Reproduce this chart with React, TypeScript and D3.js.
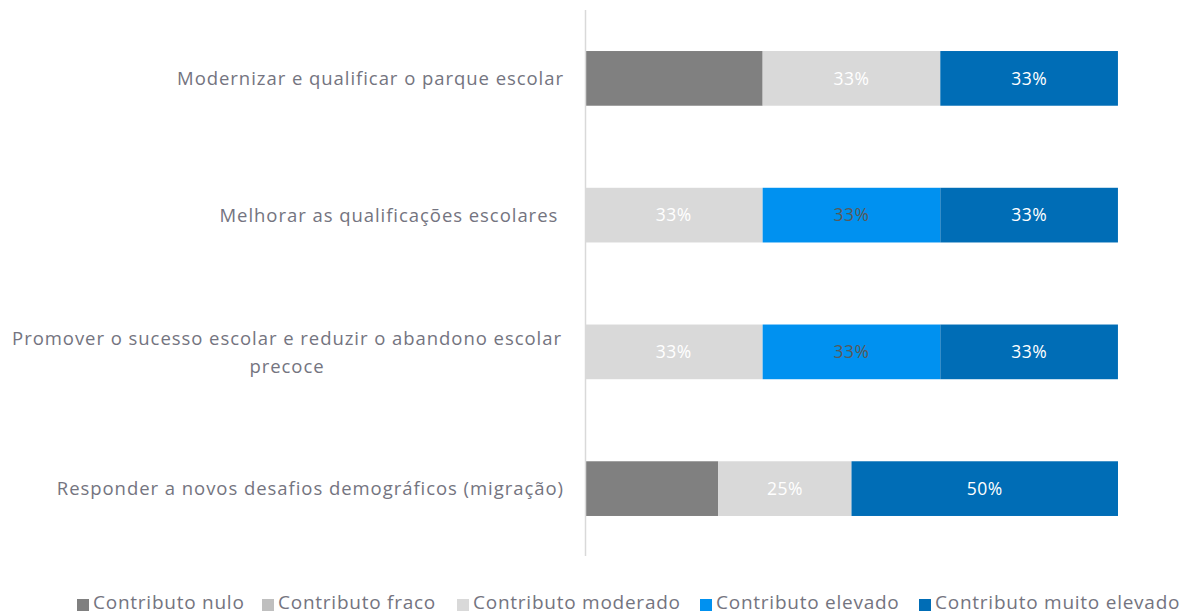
import React from "react";
import * as d3 from "d3";

const categories = [
  ["Modernizar e qualificar o parque escolar"],
  ["Melhorar as qualificações escolares "],
  ["Promover o sucesso escolar e reduzir o abandono escolar", "precoce"],
  ["Responder a novos desafios demográficos (migração)"],
];
const seriesNames = [
  "Contributo nulo",
  "Contributo fraco",
  "Contributo moderado",
  "Contributo elevado",
  "Contributo muito elevado",
];
const nulo = [0.3333, 0, 0, 0.25];
const fraco = [0, 0, 0, 0];
const moderado = [0.3333, 0.3333, 0.3333, 0.25];
const elevado = [0, 0.3333, 0.3333, 0];
const muitoElevado = [0.3333, 0.3333, 0.3333, 0.5];
const colors = ["#808080", "#BFBFBF", "#D9D9D9", "#0091F0", "#006DB6"];
const labelColors = ["#808080", "#FFFFFF", "#FFFFFF", "#595959", "#FFFFFF"];

const W = 1188;
const H = 614;
const FONT = "'Open Sans', 'Noto Sans', sans-serif";
const TXT = "#747480";

export default function App() {
  const values = [nulo, fraco, moderado, elevado, muitoElevado];
  const rows = categories.map((_, i) => {
    const r: any = { idx: i };
    values.forEach((v, s) => (r["s" + s] = v[i]));
    return r;
  });
  const keys = values.map((_, s) => "s" + s);
  const stacked = d3.stack().keys(keys)(rows);

  const x = d3.scaleLinear().domain([0, 1]).range([585, 1118]);
  const y = d3
    .scaleBand<number>()
    .domain(categories.map((_, i) => i))
    .range([10, 557])
    .paddingInner(0.6)
    .paddingOuter(0.3);

  const fmt = d3.format(".0%");

  const legendX = [77, 262, 457, 700, 919];

  return (
    <svg
      width={W}
      height={H}
      style={{ position: "absolute", left: 0, top: 0, background: "#fff" }}
      fontFamily={FONT}
    >
      {stacked.map((layer, s) => (
        <g key={s}>
          {layer.map((d, i) => {
            const w = x(d[1]) - x(d[0]);
            if (w <= 0) return null;
            return (
              <g key={i}>
                <rect
                  x={x(d[0])}
                  y={y(i)}
                  width={w}
                  height={y.bandwidth()}
                  fill={colors[s]}
                />
                {s !== 0 && (
                  <text
                    x={(x(d[0]) + x(d[1])) / 2}
                    y={y(i)! + y.bandwidth() / 2}
                    dy="0.36em"
                    textAnchor="middle"
                    fontSize={17.5}
                    letterSpacing={0.5}
                    fill={labelColors[s]}
                  >
                    {fmt(d[1] - d[0])}
                  </text>
                )}
              </g>
            );
          })}
        </g>
      ))}
      <line x1={585.5} x2={585.5} y1={10} y2={556} stroke="#D9D9D9" strokeWidth={1.5} />
      {categories.map((lines, i) => {
        const cy = y(i)! + y.bandwidth() / 2;
        if (lines.length === 1) {
          return (
            <text
              key={i}
              x={564}
              y={cy}
              dy="0.36em"
              textAnchor="end"
              fontSize={18.5}
              letterSpacing={0.95}
              fill={TXT}
              style={{ whiteSpace: "pre" }}
            >
              {lines[0]}
            </text>
          );
        }
        return (
          <text key={i} fontSize={18.5} letterSpacing={0.95} fill={TXT} textAnchor="middle">
            {lines.map((l, k) => (
              <tspan key={k} x={287} y={cy - 14 + k * 28} dy="0.36em">
                {l}
              </tspan>
            ))}
          </text>
        );
      })}
      {seriesNames.map((n, s) => (
        <g key={s}>
          <rect x={legendX[s]} y={599} width={12} height={12} fill={colors[s]} />
          <text x={legendX[s] + 16} y={609} fontSize={19} letterSpacing={0.75} fill={TXT}>
            {n}
          </text>
        </g>
      ))}
    </svg>
  );
}
